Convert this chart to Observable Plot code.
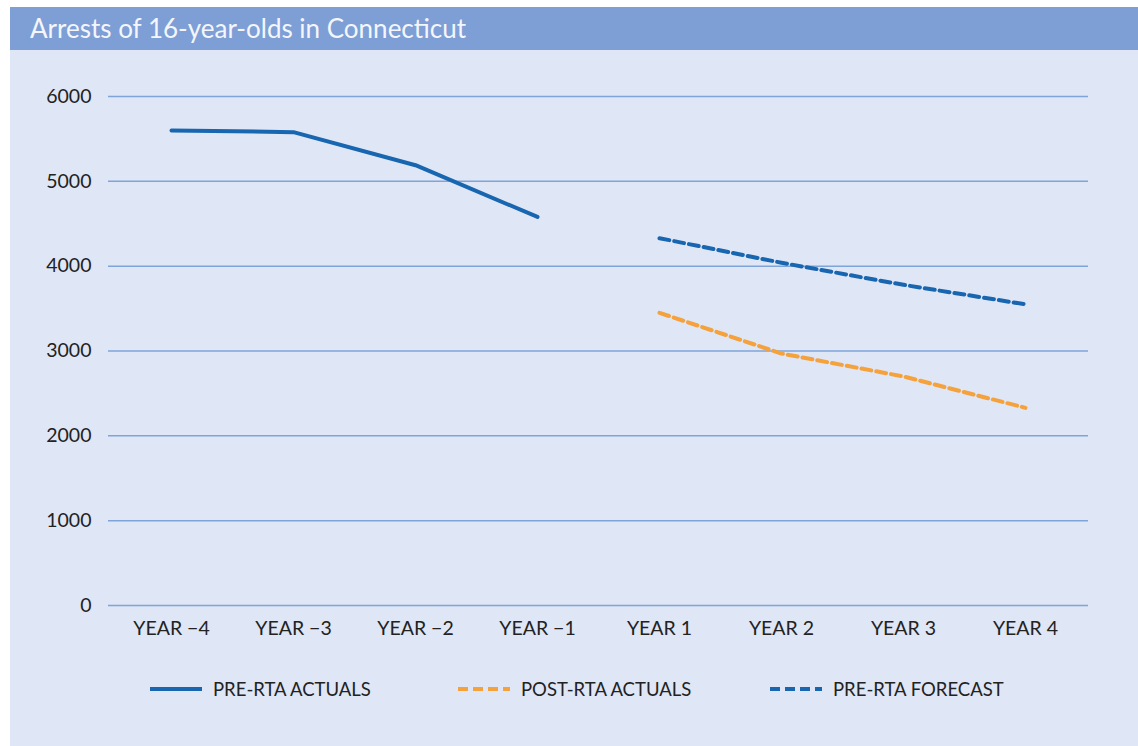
<!DOCTYPE html>
<html><head><meta charset="utf-8">
<script src="https://cdn.jsdelivr.net/npm/d3@7"></script>
<script src="https://cdn.jsdelivr.net/npm/@observablehq/plot@0.6"></script>
<style>
body{margin:0;background:#fff;}
#panel{position:absolute;left:10px;top:7px;width:1128px;height:739px;background:#dfe6f6;font-family:Lato,"Open Sans",sans-serif;overflow:hidden;}
#title{height:43px;background:#7d9fd6;color:#f4f6fb;font-size:26px;line-height:43px;padding-left:20px;box-sizing:border-box;}
#chart{position:absolute;left:0;top:43px;}
.item{position:absolute;top:670px;display:flex;align-items:center;font-size:18.5px;color:#222;height:24px;}
.item svg{margin-right:11px;}
</style></head>
<body>
<div id="panel">
  <div id="title">Arrests of 16-year-olds in Connecticut</div>
  <div id="chart"></div>
  <div id="legend"></div>
</div>
<script>
const years = ["YEAR \u22124","YEAR \u22123","YEAR \u22122","YEAR \u22121","YEAR 1","YEAR 2","YEAR 3","YEAR 4"];
const yTicks = [0,1000,2000,3000,4000,5000,6000];
const preYears = ["YEAR \u22124","YEAR \u22123","YEAR \u22122","YEAR \u22121"];
const preActuals = [5600,5580,5190,4580];
const postYears = ["YEAR 1","YEAR 2","YEAR 3","YEAR 4"];
const postActuals = [3450,2970,2700,2330];
const preForecast = [4330,4040,3780,3550];
const seriesNames = ["PRE-RTA ACTUALS","POST-RTA ACTUALS","PRE-RTA FORECAST"];
const seriesColors = ["#1866b0","#f5a13c","#1866b0"];
const seriesDash = [null,"10,5","10,5"];

const pre = preYears.map((y,i)=>({year:y,value:preActuals[i]}));
const post = postYears.map((y,i)=>({year:y,value:postActuals[i]}));
const fc = postYears.map((y,i)=>({year:y,value:preForecast[i]}));

const chart = Plot.plot({
  width:1128, height:612,
  marginLeft:98, marginRight:50, marginTop:46, marginBottom:57,
  style:{background:"transparent", fontFamily:"Lato, 'Open Sans', sans-serif", fontSize:"19.5px", color:"#222", overflow:"visible"},
  x:{type:"point", domain:years, padding:0.5, label:null, tickSize:0, tickPadding:16},
  y:{domain:[0,6000], ticks:yTicks, label:null, tickSize:0, tickPadding:17, tickFormat:d=>String(d)},
  marks:[
    Plot.ruleY(yTicks,{stroke:"#7ea4d8", strokeWidth:1.5}),
    Plot.line(pre,{x:"year",y:"value",stroke:seriesColors[0],strokeWidth:4}),
    Plot.line(post,{x:"year",y:"value",stroke:seriesColors[1],strokeWidth:4,strokeDasharray:seriesDash[1]}),
    Plot.line(fc,{x:"year",y:"value",stroke:seriesColors[2],strokeWidth:4,strokeDasharray:seriesDash[2]})
  ]
});
document.getElementById("chart").appendChild(chart);

const lefts = [140,448,760];
const legend = document.getElementById("legend");
seriesNames.forEach((n,i)=>{
  const d = document.createElement("div");
  d.className="item"; d.style.left = lefts[i]+"px";
  const dash = seriesDash[i] ? `stroke-dasharray="${seriesDash[i]}"` : "";
  d.innerHTML = `<svg width="52" height="10"><line x1="0" x2="52" y1="5" y2="5" stroke="${seriesColors[i]}" stroke-width="4" ${dash}/></svg><span>${n}</span>`;
  legend.appendChild(d);
});
</script>
</body></html>
